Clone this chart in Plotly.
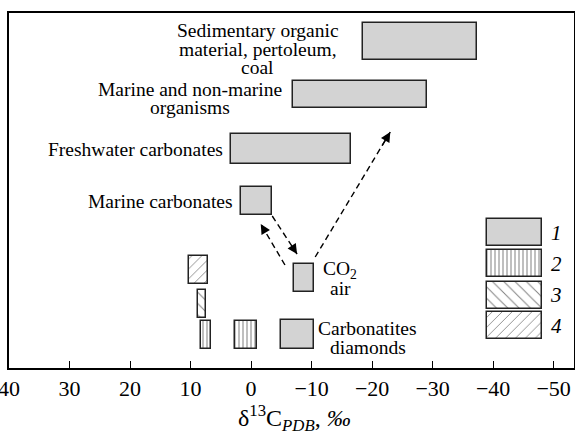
import plotly.graph_objects as go

# ---- data (delta13C, per mil PDB) ----
gray_names = ["Sedimentary organic material, pertoleum, coal",
              "Marine and non-marine organisms",
              "Freshwater carbonates",
              "Marine carbonates",
              "CO2 air",
              "Carbonatites diamonds"]
gray_hi = [-18.5, -6.9, 3.3, 1.7, -7.1, -4.9]
gray_lo = [-37.3, -29.0, -16.5, -3.4, -10.4, -10.4]

type2_hi = [2.7, 8.2]
type2_lo = [-1.0, 6.7]
type3_hi = [8.8]
type3_lo = [7.5]
type4_hi = [10.3]
type4_lo = [7.1]

tick_vals = [40, 30, 20, 10, 0, -10, -20, -30, -40, -50]
legend_labels = ["1", "2", "3", "4"]

# ---- layout positions (vertical rows, arbitrary units) ----
gray_row = [326.5, 274, 219, 167.5, 90.5, 33.5]
gray_h = [37, 27, 30, 28, 28, 29]
type2_row = [33.5, 33.5]
type3_row = [64]
type4_row = [98]
row_h = 28
leg_row = [135.3, 104.1, 73.0, 42.2]
leg_x = [-39.0, -48.0]

FONT = "Liberation Serif"
GRAY = "#d3d3d3"
EDGE = "#222222"

fig = go.Figure()

def add_bars(hi, lo, rows, heights, color, pattern=None):
    base = [min(a, b) for a, b in zip(hi, lo)]
    length = [abs(a - b) for a, b in zip(hi, lo)]
    marker = dict(color=color, line=dict(color=EDGE, width=1.5))
    if pattern:
        marker["pattern"] = pattern
    fig.add_trace(go.Bar(orientation="h", base=base, x=length, y=rows,
                         width=heights, marker=marker, showlegend=False,
                         hoverinfo="skip"))

add_bars(gray_hi, gray_lo, gray_row, gray_h, GRAY)
p2 = dict(shape="|", size=4, solidity=0.25, fgcolor="black", bgcolor="white")
p3 = dict(shape="\\", size=8, solidity=0.12, fgcolor="black", bgcolor="white")
p4 = dict(shape="/", size=7, solidity=0.12, fgcolor="black", bgcolor="white")
add_bars(type2_hi, type2_lo, type2_row, [row_h] * 2, "white", p2)
add_bars(type3_hi, type3_lo, type3_row, [row_h], "white", p3)
add_bars(type4_hi, type4_lo, type4_row, [row_h], "white", p4)

# legend boxes
leg_styles = [(GRAY, None), ("white", p2), ("white", p3), ("white", p4)]
for (col, pat), yy in zip(leg_styles, leg_row):
    add_bars([leg_x[0]], [leg_x[1]], [yy], [27], col, pat)

annotations = []
def txt(t, x, y, xanchor="center", size=19.5, italic=False):
    annotations.append(dict(text=t, x=x, y=y, xref="x", yref="y",
                            xanchor=xanchor, yanchor="middle", showarrow=False,
                            borderpad=0,
                            font=dict(family=FONT, size=size, color="black",
                                      style="italic" if italic else "normal")))

txt("Sedimentary organic", -1.1, 338)
txt("material, pertoleum,", -1.1, 319)
txt("coal", -1.1, 301)
txt("Marine and non-marine", 10.1, 279)
txt("organisms", 10.1, 261)
txt("Freshwater carbonates", 4.4, 219, xanchor="right")
txt("Marine carbonates", 2.9, 167, xanchor="right")
txt("CO<sub>2</sub>", -14.7, 98)
txt("air", -14.7, 80)
txt("Carbonatites", -19.3, 40)
txt("diamonds", -19.3, 21)
for lab, yy in zip(legend_labels, leg_row):
    txt(lab, -50.4, yy, size=21, italic=True)

# arrows: (tail x, tail y, tip x, tip y)
arrows = [(-3.5, 152, -7.6, 114),
          (-5.6, 103, -1.6, 144),
          (-10.6, 111, -23.0, 236)]
shapes = []
for x0, y0, x1, y1 in arrows:
    shapes.append(dict(type="line", x0=x0, y0=y0, x1=x1, y1=y1, xref="x", yref="y",
                       line=dict(color="black", width=1.4, dash="6px,4px")))
    fx = x1 + (x0 - x1) * 0.12
    fy = y1 + (y0 - y1) * 0.12
    annotations.append(dict(x=x1, y=y1, ax=fx, ay=fy, xref="x", yref="y",
                            axref="x", ayref="y", text="", showarrow=True,
                            arrowhead=2, arrowsize=1.4, arrowwidth=1.4,
                            arrowcolor="black"))

annotations.append(dict(text="δ<sup>13</sup>C<sub><i>PDB</i></sub>, <i>‰</i>",
                        x=0.506, y=-0.141, xref="paper", yref="paper",
                        xanchor="center", yanchor="middle", showarrow=False,
                        font=dict(family=FONT, size=24, color="black")))

fig.update_layout(
    width=575, height=433,
    margin=dict(l=9, r=1, t=13, b=65, autoexpand=False),
    paper_bgcolor="white", plot_bgcolor="white",
    barmode="overlay", bargap=0,
    annotations=annotations, shapes=shapes,
    font=dict(family=FONT, color="black"),
    xaxis=dict(range=[40, -53.36], tickvals=tick_vals,
               ticktext=[str(v).replace("-", "\u2212") for v in tick_vals],
               ticks="inside", ticklen=7, tickwidth=1, tickcolor="black",
               showline=True, linecolor="black", linewidth=1.5, mirror=True,
               showgrid=False, zeroline=False, ticklabeloverflow="allow",
               automargin=False,
               tickfont=dict(family=FONT, size=22, color="black")),
    yaxis=dict(range=[0, 355], showticklabels=False, ticks="",
               showline=True, linecolor="black", linewidth=1.5, mirror=True,
               showgrid=False, zeroline=False, automargin=False),
)

# remove the default 8px page margin so the figure fills the window
fig.write_html("out.html",
               config={"displayModeBar": False},
               post_script="document.body.style.margin='0';document.body.style.overflow='hidden';")
